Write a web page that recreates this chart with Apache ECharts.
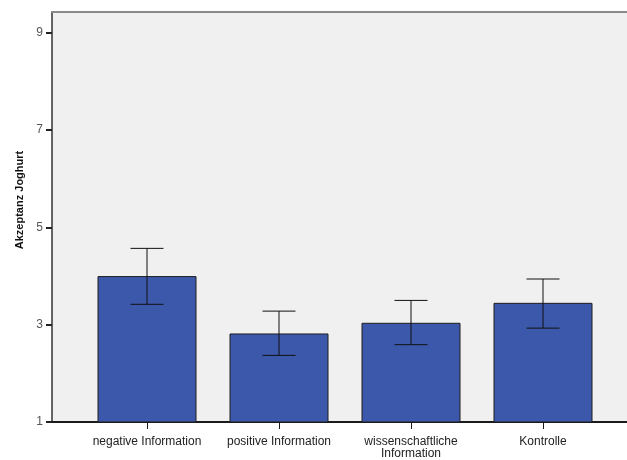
<!DOCTYPE html>
<html>
<head>
<meta charset="utf-8">
<script src="https://cdn.jsdelivr.net/npm/echarts@6/dist/echarts.min.js"></script>
<style>
  html, body { margin: 0; padding: 0; background: #ffffff; }
  #chart { width: 627px; height: 460px; }
</style>
</head>
<body>
<div id="chart"></div>
<script>
// Mean acceptance per information condition, with error bar bounds
const categories = ['negative Information', 'positive Information', 'wissenschaftliche\nInformation', 'Kontrolle'];
const means = [4.00, 2.82, 3.04, 3.45];
const errLow = [3.42, 2.37, 2.59, 2.93];
const errHigh = [4.57, 3.28, 3.50, 3.94];
const yTicks = [1, 3, 5, 7, 9];
const yMin = 1;
const yMax = 9.43;

const errorData = categories.map((c, i) => [i, errLow[i], errHigh[i]]);

const chart = echarts.init(document.getElementById('chart'), null, { renderer: 'canvas' });

const font = 'Arial, "Liberation Sans", sans-serif';

chart.setOption({
  animation: false,
  backgroundColor: '#ffffff',
  grid: [
    // frame / background panel (open on the right side)
    { left: 52, right: 0, top: 12, bottom: 38, show: true, backgroundColor: '#f0f0f0',
      borderWidth: 0, containLabel: false },
    // bar area
    { left: 81, right: 18, top: 12, bottom: 38, containLabel: false }
  ],
  xAxis: [
    { gridIndex: 0, type: 'value', min: 0, max: 1, position: 'bottom',
      axisLine: { show: true, lineStyle: { color: '#1a1a1a', width: 2 } },
      axisTick: { show: false }, axisLabel: { show: false }, splitLine: { show: false } },
    { gridIndex: 0, type: 'value', min: 0, max: 1, position: 'top',
      axisLine: { show: true, lineStyle: { color: '#8a8a8a', width: 2 } },
      axisTick: { show: false }, axisLabel: { show: false }, splitLine: { show: false } },
    { gridIndex: 1, type: 'category', data: categories, position: 'bottom',
      axisLine: { show: false },
      axisTick: { show: true, alignWithLabel: true, length: 7, lineStyle: { color: '#1a1a1a', width: 1 } },
      axisLabel: { show: true, interval: 0, margin: 14, color: '#222222', fontSize: 12,
        fontFamily: font, lineHeight: 12, align: 'center' },
      splitLine: { show: false } }
  ],
  yAxis: [
    { gridIndex: 0, type: 'value', min: 0, max: 1, show: false, splitLine: { show: false } },
    { gridIndex: 1, type: 'value', min: yMin, max: yMax, offset: 29,
      axisLine: { show: true, lineStyle: { color: '#333333', width: 1.5 } },
      axisTick: { show: true, length: 6, customValues: yTicks, lineStyle: { color: '#222222', width: 2 } },
      axisLabel: { show: true, customValues: yTicks, margin: 9, color: '#555555', fontSize: 12, fontFamily: font },
      splitLine: { show: false } }
  ],
  graphic: [
    { type: 'text', x: 20, y: 200, rotation: Math.PI / 2,
      style: { text: 'Akzeptanz Joghurt', fill: '#111111', font: 'bold 11px ' + font,
        align: 'center', verticalAlign: 'middle' } }
  ],
  series: [
    { type: 'bar', xAxisIndex: 2, yAxisIndex: 1, data: means, barWidth: 99,
      itemStyle: { color: '#3c58aa', borderColor: '#1e1e1e', borderWidth: 1 } },
    { type: 'custom', xAxisIndex: 2, yAxisIndex: 1, data: errorData, z: 5,
      renderItem: function (params, api) {
        const x = api.value(0);
        const lo = api.coord([x, api.value(1)]);
        const hi = api.coord([x, api.value(2)]);
        const half = 16.5;
        const style = { stroke: '#111111', lineWidth: 1 };
        return {
          type: 'group',
          children: [
            { type: 'line', shape: { x1: lo[0], y1: lo[1], x2: hi[0], y2: hi[1] }, style: style },
            { type: 'line', shape: { x1: hi[0] - half, y1: hi[1], x2: hi[0] + half, y2: hi[1] }, style: style },
            { type: 'line', shape: { x1: lo[0] - half, y1: lo[1], x2: lo[0] + half, y2: lo[1] }, style: style }
          ]
        };
      } }
  ]
});
</script>
</body>
</html>
